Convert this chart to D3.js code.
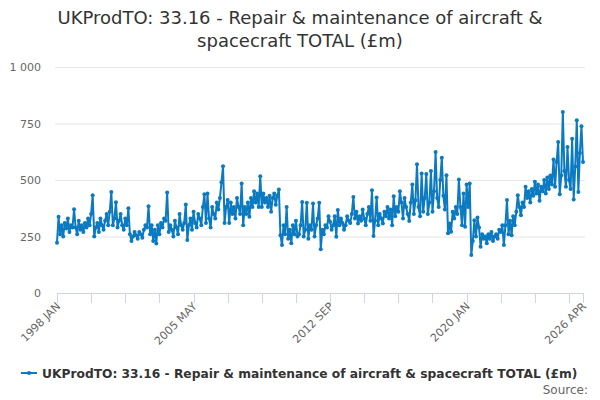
<!DOCTYPE html>
<html>
<head>
<meta charset="utf-8">
<script src="https://cdn.jsdelivr.net/npm/d3@7"></script>
<style>
  body { margin: 0; background: #fff; }
  text { font-family: "DejaVu Sans", sans-serif; }
</style>
</head>
<body>
<div id="chart"></div>
<script>
// Monthly values (£m), 1998 JAN .. 2026 APR, one row per year
const y1998 = [222, 337, 260, 300, 250, 310, 285, 330, 270, 300, 290, 371];
const y1999 = [290, 260, 320, 280, 300, 270, 310, 290, 330, 300, 350, 433];
const y2000 = [250, 290, 310, 270, 330, 300, 280, 320, 350, 300, 360, 447];
const y2001 = [300, 330, 402, 290, 320, 350, 300, 280, 330, 300, 375, 260];
const y2002 = [230, 250, 270, 255, 240, 270, 260, 245, 280, 300, 290, 384];
const y2003 = [260, 300, 230, 280, 219, 300, 260, 310, 290, 330, 320, 445];
const y2004 = [270, 300, 280, 250, 320, 290, 260, 350, 300, 280, 310, 392];
const y2005 = [234, 300, 330, 280, 360, 310, 290, 350, 330, 300, 380, 437];
const y2006 = [310, 440, 330, 290, 380, 350, 330, 400, 370, 420, 490, 561];
const y2007 = [310, 380, 411, 310, 400, 350, 380, 330, 420, 380, 350, 484];
const y2008 = [300, 380, 350, 400, 337, 420, 380, 450, 400, 440, 380, 517];
const y2009 = [380, 440, 400, 420, 380, 430, 360, 420, 440, 390, 430, 458];
const y2010 = [256, 212, 300, 260, 380, 240, 280, 220, 300, 260, 320, 250];
const y2011 = [260, 300, 403, 250, 280, 399, 240, 300, 280, 396, 250, 300];
const y2012 = [330, 399, 194, 280, 260, 300, 290, 340, 315, 280, 300, 340];
const y2013 = [249, 367, 300, 330, 310, 280, 300, 340, 320, 310, 350, 425];
const y2014 = [330, 360, 308, 340, 320, 370, 330, 300, 350, 380, 320, 455];
const y2015 = [252, 320, 423, 300, 350, 330, 308, 360, 340, 380, 330, 370];
const y2016 = [300, 428, 340, 380, 360, 450, 400, 330, 420, 380, 350, 319];
const y2017 = [400, 480, 350, 410, 570, 380, 340, 529, 360, 420, 526, 350];
const y2018 = [400, 540, 360, 450, 624, 420, 380, 500, 599, 430, 370, 521];
const y2019 = [264, 308, 271, 360, 330, 380, 350, 502, 380, 300, 440, 293];
const y2020 = [480, 380, 484, 168, 230, 322, 250, 334, 290, 205, 260, 240];
const y2021 = [250, 220, 260, 240, 270, 230, 250, 260, 240, 280, 270, 300];
const y2022 = [212, 300, 411, 260, 320, 256, 340, 300, 360, 433, 380, 344];
const y2023 = [400, 380, 470, 420, 450, 400, 460, 430, 492, 440, 480, 408];
const y2024 = [470, 450, 500, 440, 511, 460, 520, 480, 591, 470, 580, 668];
const y2025 = [437, 520, 801, 540, 470, 646, 500, 460, 683, 414, 560, 764];
const y2026 = [447, 620, 738, 580];

const years = [y1998, y1999, y2000, y2001, y2002, y2003, y2004, y2005, y2006, y2007,
  y2008, y2009, y2010, y2011, y2012, y2013, y2014, y2015, y2016, y2017,
  y2018, y2019, y2020, y2021, y2022, y2023, y2024, y2025, y2026];

const monthNames = ["JAN", "FEB", "MAR", "APR", "MAY", "JUN", "JUL", "AUG", "SEP", "OCT", "NOV", "DEC"];
const yTicks = [0, 250, 500, 750, 1000];
const labelEvery = 4;   // label every 4th tick
const tickStep = 22;    // months between ticks

const titleLines = ["UKProdTO: 33.16 - Repair & maintenance of aircraft &", "spacecraft TOTAL (£m)"];
const seriesName = "UKProdTO: 33.16 - Repair & maintenance of aircraft & spacecraft TOTAL (£m)";

// flatten to points
const data = [];
years.forEach((vals, yi) => {
  vals.forEach((v, m) => {
    data.push({ i: data.length, label: `${1998 + yi} ${monthNames[m]}`, value: v });
  });
});

const width = 600;
const height = 400;
const margin = { top: 67, right: 17, bottom: 107, left: 57 };
const color = "#0b7ac1";

const svg = d3.select("#chart").append("svg")
  .attr("width", width)
  .attr("height", height);

const x = d3.scaleLinear()
  .domain([0, data.length - 1])
  .range([margin.left, width - margin.right]);

const y = d3.scaleLinear()
  .domain([0, 1000])
  .range([height - margin.bottom, margin.top]);

// title
svg.append("text")
  .attr("x", width / 2)
  .attr("y", 24)
  .attr("text-anchor", "middle")
  .style("font-size", "18px")
  .style("fill", "#333")
  .selectAll("tspan")
  .data(titleLines)
  .join("tspan")
  .attr("x", width / 2)
  .attr("dy", (d, k) => (k === 0 ? 0 : 23))
  .text((d) => d);

// grid + y labels
svg.append("g")
  .selectAll("line")
  .data(yTicks.slice(1))
  .join("line")
  .attr("x1", margin.left - 2)
  .attr("x2", width - margin.right + 2)
  .attr("y1", (d) => y(d) + 0.5)
  .attr("y2", (d) => y(d) + 0.5)
  .attr("stroke", "#e6e6e6");

svg.append("g")
  .selectAll("text")
  .data(yTicks)
  .join("text")
  .attr("x", 41)
  .attr("y", (d) => y(d) + 4)
  .attr("text-anchor", "end")
  .style("font-size", "11px")
  .style("fill", "#666")
  .text((d) => d3.format(",")(d).replace(",", " "));

// x axis
const tickIdx = d3.range(0, data.length, tickStep);
const lastIdx = data.length - 1;
const xAxis = svg.append("g");
xAxis.append("line")
  .attr("x1", x(0))
  .attr("x2", x(lastIdx))
  .attr("y1", y(0) + 0.5)
  .attr("y2", y(0) + 0.5)
  .attr("stroke", "#ccd6eb");
xAxis.selectAll("line.tick")
  .data(tickIdx.concat([lastIdx]))
  .join("line")
  .attr("class", "tick")
  .attr("x1", (d) => Math.round(x(d)) + 0.5)
  .attr("x2", (d) => Math.round(x(d)) + 0.5)
  .attr("y1", y(0))
  .attr("y2", y(0) + 10)
  .attr("stroke", "#ccd6eb");

const labelled = tickIdx.filter((d, k) => k % labelEvery === 0 && d < lastIdx - 40).concat([lastIdx]);
xAxis.selectAll("text")
  .data(labelled)
  .join("text")
  .attr("transform", (d) => `translate(${x(d) + 4},${y(0) + 14}) rotate(-45)`)
  .attr("text-anchor", "end")
  .style("font-size", "11px")
  .style("fill", "#666")
  .text((d) => data[d].label);

// series
const line = d3.line()
  .x((d) => x(d.i))
  .y((d) => y(d.value));

svg.append("path")
  .datum(data)
  .attr("fill", "none")
  .attr("stroke", color)
  .attr("stroke-width", 2)
  .attr("stroke-linejoin", "round")
  .attr("d", line);

svg.append("g")
  .selectAll("circle")
  .data(data)
  .join("circle")
  .attr("cx", (d) => x(d.i))
  .attr("cy", (d) => y(d.value))
  .attr("r", 2)
  .attr("fill", color);

// legend
const legend = svg.append("g").attr("transform", "translate(0,373)");
legend.append("line")
  .attr("x1", 21)
  .attr("x2", 37)
  .attr("stroke", color)
  .attr("stroke-width", 2);
legend.append("circle")
  .attr("cx", 29)
  .attr("r", 2)
  .attr("fill", color);
const legendText = legend.append("text")
  .attr("x", 42)
  .attr("y", 5)
  .style("font-size", "13px")
  .style("font-weight", "bold")
  .style("fill", "#333")
  .text(seriesName);

// shrink the legend text until it fits the width seen in the reference
let fs = 13;
while (legendText.node().getComputedTextLength() > 536 && fs > 8) {
  fs -= 0.25;
  legendText.style("font-size", fs + "px");
}

svg.append("text")
  .attr("x", 588)
  .attr("y", 394)
  .attr("text-anchor", "end")
  .style("font-size", "12px")
  .style("fill", "#666")
  .text("Source:");
</script>
</body>
</html>
